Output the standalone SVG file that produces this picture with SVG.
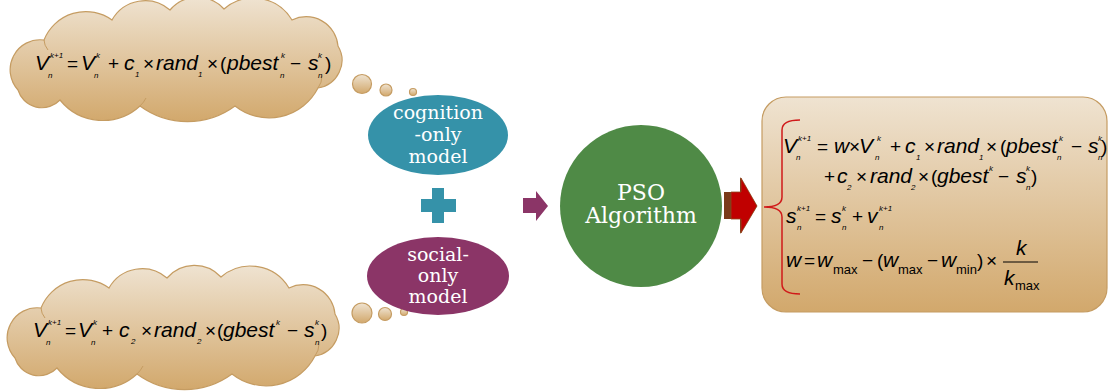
<svg xmlns="http://www.w3.org/2000/svg" width="1108" height="392" viewBox="0 0 1108 392">
  <style>
    .m { font-family: "Liberation Sans", Arial, sans-serif; font-style: italic; font-size: 21px; fill: #000; }
    .o { font-style: normal; font-size: 19px; }
    .s { font-size: 8px; }
    .u { font-style: normal; font-size: 13px; }
    .lbl { font-family: "DejaVu Serif", "Liberation Serif", serif; fill: #fff; text-anchor: middle; }
    .puff { fill: url(#tan); stroke: #C59C62; stroke-width: 1.2; }
    .inner { fill: none; stroke: #C59C62; stroke-width: 1; }
  </style>
  <defs>
    <linearGradient id="tan" x1="0" y1="0" x2="0" y2="1">
      <stop offset="0" stop-color="#EFE3D1"/>
      <stop offset="1" stop-color="#D2A86C"/>
    </linearGradient>
    <!-- cloud outline, drawn clockwise from the lower left lobe -->
    <path id="cloud" d="M 18,90 A 30,30 0 0 1 44,40 A 45,45 0 0 1 112,20 A 38,38 0 0 1 170,10 A 36,36 0 0 1 224,9 A 45,45 0 0 1 292,20 A 32,32 0 0 1 338,46 A 28,28 0 0 1 318,88 A 55,55 0 0 1 235,106 A 80,80 0 0 1 140,106 A 55,55 0 0 1 60,100 A 25,25 0 0 1 18,90 Z"/>
  </defs>

  <rect width="1108" height="392" fill="#fff"/>

  <!-- upper thought cloud: cognition-only velocity update -->
  <g id="cloud-cognition">
    <use href="#cloud" class="puff"/>
    <path class="inner" d="M 318,88 A 30,24 0 0 0 322,76"/>
    <path class="inner" d="M 44,40 A 26,20 0 0 0 48,50"/>
    <path class="inner" d="M 140,106 A 40,30 0 0 0 146,98"/>
    <circle class="puff" cx="362" cy="84" r="9.5"/>
    <circle class="puff" cx="386" cy="90" r="6"/>
    <circle class="puff" cx="413" cy="92" r="3.5"/>
    <text class="m">
      <tspan x="35" y="70">V</tspan>
      <tspan class="s" x="50" y="58">k+1</tspan>
      <tspan class="s" x="48" y="78">n</tspan>
      <tspan class="o" x="67" y="70">=</tspan>
      <tspan x="81" y="70">V</tspan>
      <tspan class="s" x="96" y="58">k</tspan>
      <tspan class="s" x="94" y="78">n</tspan>
      <tspan class="o" x="108" y="70">+</tspan>
      <tspan x="124" y="70">c</tspan>
      <tspan class="s" x="135" y="77">1</tspan>
      <tspan class="o" x="143" y="70">×</tspan>
      <tspan x="156" y="70">rand</tspan>
      <tspan class="s" x="198" y="77">1</tspan>
      <tspan class="o" x="207" y="70">×</tspan>
      <tspan class="o" x="220" y="70">(</tspan>
      <tspan x="227" y="70">pbest</tspan>
      <tspan class="s" x="281" y="58">k</tspan>
      <tspan class="s" x="280" y="78">n</tspan>
      <tspan class="o" x="290" y="70">−</tspan>
      <tspan x="308" y="70">s</tspan>
      <tspan class="s" x="318" y="58">k</tspan>
      <tspan class="s" x="318" y="78">n</tspan>
      <tspan class="o" x="325" y="70">)</tspan>
    </text>
  </g>

  <!-- lower thought cloud: social-only velocity update -->
  <g id="cloud-social">
    <use href="#cloud" class="puff" transform="translate(-3,268)"/>
    <path class="inner" d="M 315,356 A 30,24 0 0 0 319,344"/>
    <path class="inner" d="M 41,308 A 26,20 0 0 0 45,318"/>
    <path class="inner" d="M 137,374 A 40,30 0 0 0 143,366"/>
    <circle class="puff" cx="362" cy="313" r="10"/>
    <circle class="puff" cx="385" cy="314" r="6.5"/>
    <circle class="puff" cx="404" cy="312" r="3.5"/>
    <text class="m">
      <tspan x="33" y="337">V</tspan>
      <tspan class="s" x="48" y="325">k+1</tspan>
      <tspan class="s" x="46" y="345">n</tspan>
      <tspan class="o" x="65" y="337">=</tspan>
      <tspan x="78" y="337">V</tspan>
      <tspan class="s" x="93" y="325">k</tspan>
      <tspan class="s" x="91" y="345">n</tspan>
      <tspan class="o" x="102" y="337">+</tspan>
      <tspan x="119" y="337">c</tspan>
      <tspan class="s" x="131" y="344">2</tspan>
      <tspan class="o" x="141" y="337">×</tspan>
      <tspan x="154" y="337">rand</tspan>
      <tspan class="s" x="197" y="344">2</tspan>
      <tspan class="o" x="205" y="337">×</tspan>
      <tspan class="o" x="217" y="337">(</tspan>
      <tspan x="223" y="337">gbest</tspan>
      <tspan class="s" x="276" y="325">k</tspan>
      <tspan class="o" x="287" y="337">−</tspan>
      <tspan x="304" y="337">s</tspan>
      <tspan class="s" x="315" y="325">k</tspan>
      <tspan class="s" x="315" y="345">n</tspan>
      <tspan class="o" x="321" y="337">)</tspan>
    </text>
  </g>

  <g id="cognition-only">
    <ellipse cx="438" cy="135" rx="70" ry="40" fill="#3592A9"/>
    <text class="lbl" font-size="19"><tspan x="438" y="119">cognition</tspan><tspan x="438" y="141">-only</tspan><tspan x="438" y="163">model</tspan></text>
  </g>

  <g id="plus">
    <rect x="432" y="188" width="12" height="35" fill="#3592A9"/>
    <rect x="421" y="199" width="35" height="13" fill="#3592A9"/>
  </g>

  <g id="social-only">
    <ellipse cx="438" cy="276" rx="71" ry="39" fill="#8B3567"/>
    <text class="lbl" font-size="19"><tspan x="438" y="261">social-</tspan><tspan x="438" y="282">only</tspan><tspan x="438" y="303">model</tspan></text>
  </g>

  <g id="pso">
    <circle cx="641" cy="206" r="81" fill="#4F8A46"/>
    <text class="lbl" font-size="22"><tspan x="641" y="200">PSO</tspan><tspan x="641" y="223">Algorithm</tspan></text>
  </g>

  <g id="connectors">
    <polygon points="523,198 536,198 536,191 548,206 536,221 536,213 523,213" fill="#8B3567"/>
    <polygon points="724,192 740,192 740,177 757,206 740,234 740,219 724,219" fill="#7A3A1A"/>
    <polygon points="731,192 741,192 741,178 757,206 741,233 741,219 731,219" fill="#C00000" stroke="#8E4A1E" stroke-width="0.8"/>
  </g>

  <g id="pso-equations">
    <rect x="762" y="97" width="345" height="215" rx="24" fill="url(#tan)" stroke="#C59C62" stroke-width="1.2"/>
    <path d="M 800,120 Q 782,120 782,130 L 782,197 Q 782,207 764,207 Q 782,207 782,217 L 782,284 Q 782,294 800,294" fill="none" stroke="#D01A1A" stroke-width="1.5"/>
    <text class="m">
      <tspan x="783" y="153">V</tspan>
      <tspan class="s" x="798" y="141">k+1</tspan>
      <tspan class="s" x="796" y="160">n</tspan>
      <tspan class="o" x="817" y="153">=</tspan>
      <tspan x="834" y="153">w</tspan>
      <tspan class="o" x="849" y="153">×</tspan>
      <tspan x="859" y="153">V</tspan>
      <tspan class="s" x="877" y="141">k</tspan>
      <tspan class="s" x="875" y="160">n</tspan>
      <tspan class="o" x="890" y="153">+</tspan>
      <tspan x="905" y="153">c</tspan>
      <tspan class="s" x="916" y="160">1</tspan>
      <tspan class="o" x="924" y="153">×</tspan>
      <tspan x="937" y="153">rand</tspan>
      <tspan class="s" x="979" y="160">1</tspan>
      <tspan class="o" x="986" y="153">×</tspan>
      <tspan class="o" x="1000" y="153">(</tspan>
      <tspan x="1006" y="153">pbest</tspan>
      <tspan class="s" x="1059" y="141">k</tspan>
      <tspan class="s" x="1057" y="160">n</tspan>
      <tspan class="o" x="1071" y="153">−</tspan>
      <tspan x="1088" y="153">s</tspan>
      <tspan class="s" x="1098" y="141">k</tspan>
      <tspan class="s" x="1098" y="160">n</tspan>
      <tspan class="o" x="1101" y="153">)</tspan>

      <tspan class="o" x="824" y="183">+</tspan>
      <tspan x="837" y="183">c</tspan>
      <tspan class="s" x="847" y="190">2</tspan>
      <tspan class="o" x="856" y="183">×</tspan>
      <tspan x="870" y="183">rand</tspan>
      <tspan class="s" x="911" y="190">2</tspan>
      <tspan class="o" x="918" y="183">×</tspan>
      <tspan class="o" x="931" y="183">(</tspan>
      <tspan x="937" y="183">gbest</tspan>
      <tspan class="s" x="989" y="171">k</tspan>
      <tspan class="o" x="998" y="183">−</tspan>
      <tspan x="1016" y="183">s</tspan>
      <tspan class="s" x="1026" y="171">k</tspan>
      <tspan class="s" x="1026" y="190">n</tspan>
      <tspan class="o" x="1031" y="183">)</tspan>

      <tspan x="786" y="223">s</tspan>
      <tspan class="s" x="797" y="211">k+1</tspan>
      <tspan class="s" x="797" y="230">n</tspan>
      <tspan class="o" x="815" y="223">=</tspan>
      <tspan x="831" y="223">s</tspan>
      <tspan class="s" x="842" y="211">k</tspan>
      <tspan class="s" x="842" y="230">n</tspan>
      <tspan class="o" x="852" y="223">+</tspan>
      <tspan x="867" y="223">v</tspan>
      <tspan class="s" x="879" y="211">k+1</tspan>
      <tspan class="s" x="879" y="230">n</tspan>

      <tspan x="786" y="267">w</tspan>
      <tspan class="o" x="804" y="267">=</tspan>
      <tspan x="817" y="267">w</tspan>
      <tspan class="u" x="833" y="274">max</tspan>
      <tspan class="o" x="862" y="267">−</tspan>
      <tspan class="o" x="877" y="267">(</tspan>
      <tspan x="883" y="267">w</tspan>
      <tspan class="u" x="898" y="274">max</tspan>
      <tspan class="o" x="927" y="267">−</tspan>
      <tspan x="941" y="267">w</tspan>
      <tspan class="u" x="956" y="274">min</tspan>
      <tspan class="o" x="977" y="267">)</tspan>
      <tspan class="o" x="986" y="267">×</tspan>
      <tspan x="1016" y="255">k</tspan>
      <tspan x="1004" y="285">k</tspan>
      <tspan class="u" x="1015" y="290">max</tspan>
    </text>
    <line x1="1003" y1="262" x2="1038" y2="262" stroke="#000" stroke-width="1"/>
  </g>
</svg>
